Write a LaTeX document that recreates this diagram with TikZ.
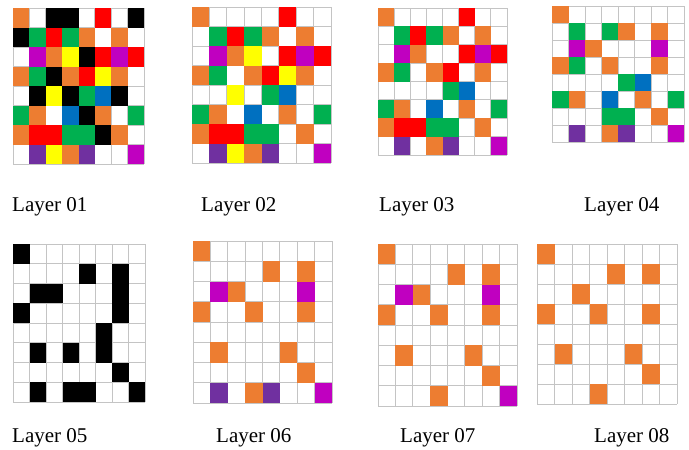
\documentclass[tikz,border=0pt]{standalone}
\usepackage{fontspec}
\setmainfont{Liberation Serif}
\usepackage{xcolor}
\usepackage{tikz}

\definecolor{cO}{HTML}{ED7D31}
\definecolor{cK}{HTML}{000000}
\definecolor{cR}{HTML}{FF0000}
\definecolor{cG}{HTML}{00B050}
\definecolor{cY}{HTML}{FFFF00}
\definecolor{cB}{HTML}{0070C0}
\definecolor{cP}{HTML}{7030A0}
\definecolor{cM}{HTML}{C000C0}
\definecolor{gridgray}{HTML}{C4C4C4}

% #1 left, #2 top, #3 width, #4 height, #5 rows of cell letters
\newcommand{\layergrid}[5]{%
  \foreach \k in {0,...,8} {
    \draw[gridline] ({#1+\k*#3/8},#2) -- ++(0,#4);
    \draw[gridline] (#1,{#2+\k*#4/8}) -- ++(#3,0);
  }
  \foreach \row [count=\j] in {#5} {
    \foreach \c [count=\i] in \row {
      \path[cell\c] ({#1+(\i-1)*#3/8},{#2+(\j-1)*#4/8}) rectangle ++({#3/8},{#4/8});
    }
  }
}

\begin{document}
\begin{tikzpicture}[
x=1pt, y=-1pt,
font=\fontsize{21}{25}\selectfont,
gridline/.style={draw=gridgray, line width=0.8pt},
caption/.style={anchor=base west, inner sep=0pt},
cellW/.style={},
cellO/.style={fill=cO}, cellK/.style={fill=cK}, cellR/.style={fill=cR},
cellG/.style={fill=cG}, cellY/.style={fill=cY}, cellB/.style={fill=cB},
cellP/.style={fill=cP}, cellM/.style={fill=cM}
]
\useasboundingbox (0,0) rectangle (689,450);

% --- TOP ROW ---
\layergrid{13}{8}{131}{156}{
  {O,W,K,K,W,R,W,K},{K,G,R,G,O,W,O,W},{W,M,O,Y,K,R,M,R},{O,G,K,O,R,Y,O,W},
  {W,K,Y,K,G,B,K,W},{G,O,W,B,K,O,W,G},{O,R,R,G,G,K,O,W},{W,P,Y,O,P,W,W,M}}
\layergrid{192}{7}{139}{156}{
  {O,W,W,W,W,R,W,W},{W,G,R,G,O,W,O,W},{W,M,O,Y,W,R,M,R},{O,G,W,O,R,Y,O,W},
  {W,W,Y,W,G,B,W,W},{G,O,W,B,W,O,W,G},{O,R,R,G,G,W,O,W},{W,P,Y,O,P,W,W,M}}
\layergrid{378}{8}{129}{147}{
  {O,W,W,W,W,R,W,W},{W,G,R,G,O,W,O,W},{W,M,O,W,W,R,M,R},{O,G,W,O,R,W,O,W},
  {W,W,W,W,G,B,W,W},{G,O,W,B,W,O,W,G},{O,R,R,G,G,W,O,W},{W,P,W,O,P,W,W,M}}
\layergrid{552}{6}{132}{136}{
  {O,W,W,W,W,W,W,W},{W,G,W,G,O,W,O,W},{W,M,O,W,W,W,M,W},{O,G,W,O,W,W,O,W},
  {W,W,W,W,G,B,W,W},{G,O,W,B,W,O,W,G},{W,W,W,G,G,W,O,W},{W,P,W,O,P,W,W,M}}

\node[caption] (lab01) at (12,211) {Layer 01};
\node[caption] (lab02) at (201,211) {Layer 02};
\node[caption] (lab03) at (379,211) {Layer 03};
\node[caption] (lab04) at (584,211) {Layer 04};

% --- BOTTOM ROW ---
\layergrid{13}{244}{132}{158}{
  {K,W,W,W,W,W,W,W},{W,W,W,W,K,W,K,W},{W,K,K,W,W,W,K,W},{K,W,W,W,W,W,K,W},
  {W,W,W,W,W,K,W,W},{W,K,W,K,W,K,W,W},{W,W,W,W,W,W,K,W},{W,K,W,K,K,W,W,K}}
\layergrid{193}{241}{139}{162}{
  {O,W,W,W,W,W,W,W},{W,W,W,W,O,W,O,W},{W,M,O,W,W,W,M,W},{O,W,W,O,W,W,O,W},
  {W,W,W,W,W,W,W,W},{W,O,W,W,W,O,W,W},{W,W,W,W,W,W,O,W},{W,P,W,O,P,W,W,M}}
\layergrid{378}{244}{139}{162}{
  {O,W,W,W,W,W,W,W},{W,W,W,W,O,W,O,W},{W,M,O,W,W,W,M,W},{O,W,W,O,W,W,O,W},
  {W,W,W,W,W,W,W,W},{W,O,W,W,W,O,W,W},{W,W,W,W,W,W,O,W},{W,W,W,O,W,W,W,M}}
\layergrid{537}{244}{140}{160}{
  {O,W,W,W,W,W,W,W},{W,W,W,W,O,W,O,W},{W,W,O,W,W,W,W,W},{O,W,W,O,W,W,O,W},
  {W,W,W,W,W,W,W,W},{W,O,W,W,W,O,W,W},{W,W,W,W,W,W,O,W},{W,W,W,O,W,W,W,W}}

\node[caption] (lab05) at (12,442) {Layer 05};
\node[caption] (lab06) at (216,442) {Layer 06};
\node[caption] (lab07) at (400,442) {Layer 07};
\node[caption] (lab08) at (594,442) {Layer 08};

\end{tikzpicture}
\end{document}
